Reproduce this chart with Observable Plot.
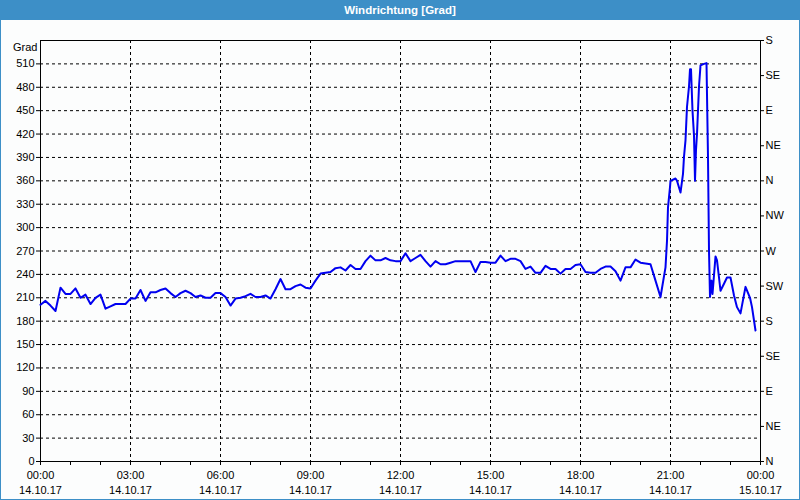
<!DOCTYPE html>
<html><head><meta charset="utf-8">
<script src="https://cdn.jsdelivr.net/npm/d3@7"></script>
<script src="https://cdn.jsdelivr.net/npm/@observablehq/plot@0.6"></script>
<style>
html,body{margin:0;padding:0;background:#fcfdfd;}
#page{width:800px;height:500px;position:relative;overflow:hidden;background:#fcfdfd;}
#title{height:20px;background:#3d8fc7;color:#fff;font:bold 11.5px "Liberation Sans",Arial,sans-serif;text-align:center;line-height:20px;}
#border{position:absolute;left:0;top:0;width:800px;height:500px;box-sizing:border-box;border:1px solid #3d8fc7;pointer-events:none;}
#chart svg{display:block;}
</style></head>
<body>
<div id="page">
  <div id="title">Windrichtung [Grad]</div>
  <div id="chart"></div>
  <div id="border"></div>
</div>
<script>
const minutes = [0,10,20,30,40,50,60,70,80,90,100,110,120,130,140,150,160,170,180,190,200,210,220,230,240,250,260,270,280,290,300,310,320,330,340,350,360,370,380,390,400,410,420,430,440,450,460,470,480,490,500,510,520,530,540,550,560,570,580,590,600,610,620,630,640,650,660,670,680,690,700,710,720,730,740,750,760,770,780,790,800,810,820,830,840,850,860,870,880,890,900,910,920,930,940,950,960,970,980,990,1000,1010,1020,1030,1040,1050,1060,1070,1080,1090,1100,1110,1120,1130,1140,1150,1160,1170,1180,1190,1200,1210,1220,1230,1240,
  1250,1253,1255,1259,1260,1270,1273,1280,1285,1287,1290,1293,1297,1299,1301,1304,1307,1309,1311,1313,1317,1320,1327,1332,1335,1337,1339,1342,1344,1350,1353,1357,1360,1367,1373,1380,1387,1393,1400,1410,1419,1423,1430];
const direction = [201,206,200,193,223,215,215,222,210,214,202,210,214,196,199,202,202,202,209,209,220,206,217,217,220,222,216,211,216,219,216,211,213,210,210,216,216,211,200,209,210,212,215,211,211,213,209,221,234,221,221,225,227,223,222,232,241,242,243,248,249,245,252,247,247,257,264,258,258,261,258,257,257,267,257,261,265,257,250,257,253,253,255,257,257,257,257,243,256,256,255,255,264,257,260,260,257,247,250,242,242,251,247,247,241,247,247,252,253,243,242,242,247,250,250,244,232,249,249,259,255,254,253,232,211,
  249,283,326,352,360,363,360,345,369,391,412,455,481,503,503,450,418,360,400,420,481,508,510,511,390,270,211,232,215,263,258,236,219,228,236,236,213,198,190,224,210,198,168];

const yTicks = [0,30,60,90,120,150,180,210,240,270,300,330,360,390,420,450,480,510];
const compassValues = [0,45,90,135,180,225,270,315,360,405,450,495,540];
const compassLabels = ["N","NE","E","SE","S","SW","W","NW","N","NE","E","SE","S"];
const xTickMinutes = [0,180,360,540,720,900,1080,1260,1440];
const xTimeLabels = ["00:00","03:00","06:00","09:00","12:00","15:00","18:00","21:00","00:00"];
const xDateLabels = ["14.10.17","14.10.17","14.10.17","14.10.17","14.10.17","14.10.17","14.10.17","14.10.17","15.10.17"];
const hourTicks = [0,60,120,180,240,300,360,420,480,540,600,660,720,780,840,900,960,1020,1080,1140,1200,1260,1320,1380,1440];

const data = minutes.map((t, i) => ({t, v: direction[i]}));

const chart = Plot.plot({
  width: 800, height: 480,
  marginLeft: 40, marginRight: 40, marginTop: 20, marginBottom: 39,
  style: {fontFamily: '"Liberation Sans", Arial, sans-serif', fontSize: "11px", background: "transparent", color: "black"},
  x: {domain: [0, 1440]},
  y: {domain: [0, 540]},
  marks: [
    Plot.gridX(xTickMinutes.slice(1, -1), {stroke: "black", strokeOpacity: 1, strokeDasharray: "3,3"}),
    Plot.gridY(yTicks.slice(1), {stroke: "black", strokeOpacity: 1, strokeDasharray: "3,3"}),
    Plot.frame({stroke: "black"}),
    Plot.axisY(yTicks, {anchor: "left", tickSize: 4, tickPadding: 2, label: null}),
    Plot.axisY(compassValues, {anchor: "right", tickSize: 3, tickPadding: 2, label: null,
      tickFormat: d => compassLabels[compassValues.indexOf(d)]}),
    Plot.axisX(hourTicks, {anchor: "bottom", tickSize: 4, tickFormat: () => "", label: null}),
    Plot.axisX(xTickMinutes, {anchor: "bottom", tickSize: 4, tickPadding: 2, label: null, lineHeight: 1.42,
      tickFormat: d => { const k = xTickMinutes.indexOf(d); return xTimeLabels[k] + "\n" + xDateLabels[k]; }}),
    Plot.line(data, {x: "t", y: "v", stroke: "#0000f0", strokeWidth: 2}),
    Plot.text(["Grad"], {frameAnchor: "top-left", dx: -3, dy: 3, textAnchor: "end", fill: "black"})
  ]
});
document.getElementById("chart").appendChild(chart);
</script>
</body></html>
